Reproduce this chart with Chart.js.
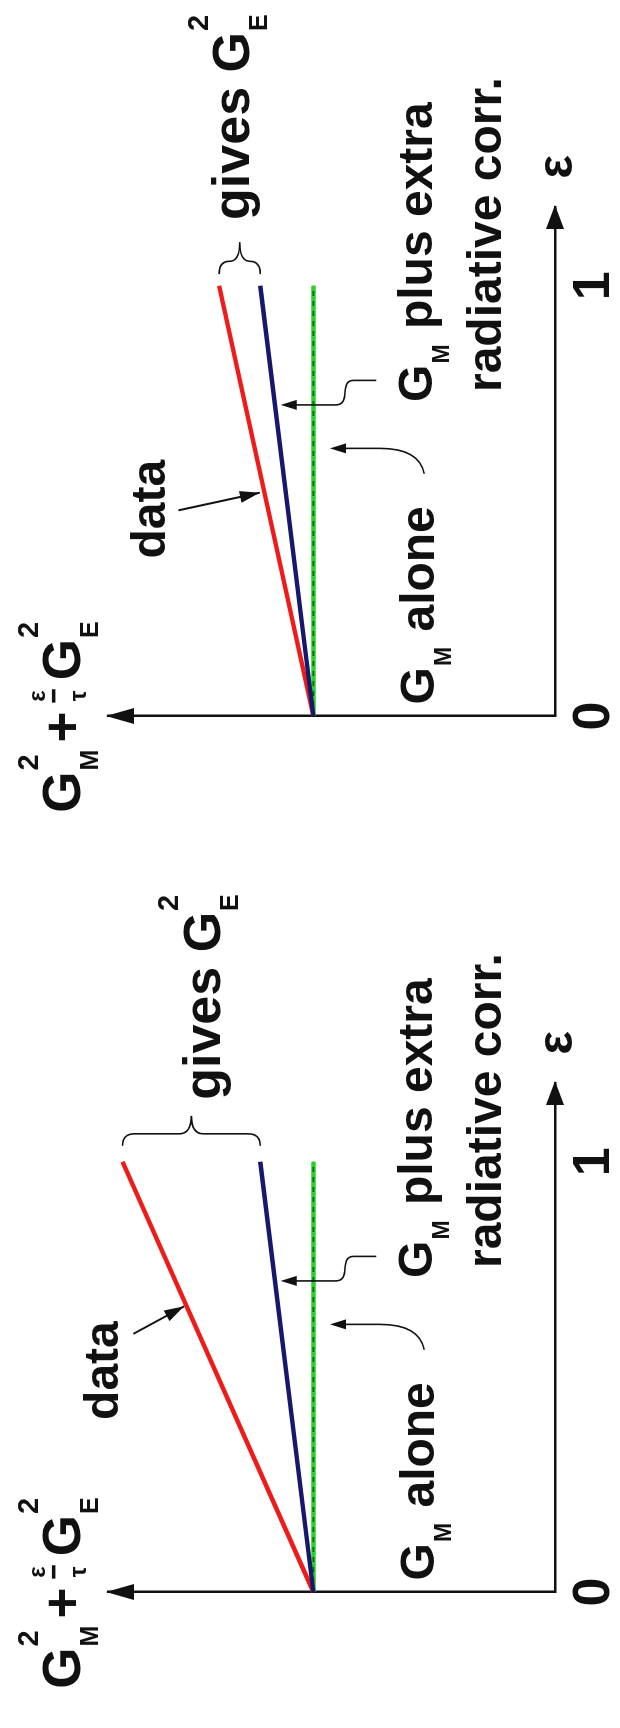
<!DOCTYPE html>
<html>
<head>
<meta charset="utf-8">
<title>G_M^2 + (eps/tau) G_E^2 versus eps</title>
<script src="https://cdn.jsdelivr.net/npm/chart.js@4.4.1/dist/chart.umd.min.js"></script>
<style>
  html, body { margin: 0; padding: 0; background: #fff; overflow: hidden; }
  #wrap { position: relative; width: 620px; height: 1728px; overflow: hidden; }
  /* the figure is drawn landscape and turned a quarter left, like the original page */
  canvas { position: absolute; left: 0; top: 0; transform-origin: 0 0; }
  #top { transform: translate(0px, 864px) rotate(-90deg); }
  #bottom { transform: translate(0px, 1740px) rotate(-90deg); }
</style>
</head>
<body>
<div id="wrap">
  <canvas id="top" width="864" height="620"></canvas>
  <canvas id="bottom" width="864" height="620"></canvas>
</div>
<script>
// values (G_M^2 taken as 1)
const eps = [0, 1];
const gmAlone = [1, 1];
const gmRadCorr = [1, 1.22];
const dataTop = [1, 1.39];
const dataBottom = [1, 1.79];
const epsTicks = [0, 1];
const epsTickLabels = ['0', '1'];
const EPS_MAX = 1.183;
const Y_MAX = 1.85;

const FONT = '"Liberation Sans", Arial, Helvetica, sans-serif';
function bold(size) { return 'bold ' + size + 'px ' + FONT; }

function pts(vals) {
  return eps.map((e, i) => ({ x: e, y: vals[i] }));
}

// per panel: where the notes sit, in (eps, value) units
const layouts = {
  top: {
    red: dataTop,
    gives: [1.153, 1.265],
    brace: { e: 1.027, depth: 32 },
    data: [0.366, 1.614],
    dataArrow: [[0.478, 1.558], [0.519, 1.222]]
  },
  bottom: {
    red: dataBottom,
    gives: [1.144, 1.387],
    brace: { e: 1.037, depth: 30 },
    data: [0.400, 1.810],
    dataArrow: [[0.600, 1.745], [0.664, 1.535]]
  }
};

// text run: plain strings, stacked sub/sup, gaps, or a small fraction
function run(ctx, x, y, pieces, F, dry) {
  ctx.textBaseline = 'alphabetic';
  ctx.textAlign = 'left';
  for (const p of pieces) {
    if (typeof p === 'string') {
      ctx.font = bold(F);
      if (!dry) ctx.fillText(p, x, y);
      x += ctx.measureText(p).width;
    } else if (p.gap) {
      x += p.gap;
    } else if (p.frac) {
      const fs = Math.round(F * 0.46);
      ctx.font = bold(fs);
      const wa = ctx.measureText(p.frac[0]).width;
      const wb = ctx.measureText(p.frac[1]).width;
      const w = Math.max(wa, wb) + 2;
      if (!dry) {
        ctx.fillText(p.frac[0], x + (w - wa) / 2, y - F * 0.66);
        ctx.fillRect(x, y - F * 0.53, w, 3.5);
        ctx.fillText(p.frac[1], x + (w - wb) / 2, y + F * 0.12);
      }
      x += w;
    } else {
      let w = 0;
      if (p.sup) {
        ctx.font = bold(Math.round(F * 0.55));
        if (!dry) ctx.fillText(p.sup, x + 1, y - F * 0.8);
        w = Math.max(w, ctx.measureText(p.sup).width);
      }
      if (p.sub) {
        ctx.font = bold(Math.round(F * 0.48));
        if (!dry) ctx.fillText(p.sub, x + 1, y + F * 0.34);
        w = Math.max(w, ctx.measureText(p.sub).width);
      }
      x += w + 3;
    }
  }
  return x;
}

function head(ctx, from, tip, len, half) {
  const a = Math.atan2(tip[1] - from[1], tip[0] - from[0]);
  ctx.save();
  ctx.translate(tip[0], tip[1]);
  ctx.rotate(a);
  ctx.beginPath();
  ctx.moveTo(0, 0);
  ctx.lineTo(-len, -half);
  ctx.lineTo(-len, half);
  ctx.closePath();
  ctx.fill();
  ctx.restore();
}

function brace(ctx, x0, yTop, yBot, depth) {
  const yTip = (yTop + yBot) / 2;
  const xm = x0 + depth * 0.4;
  const r = Math.min(depth * 0.4, (yTip - yTop) / 2);
  ctx.beginPath();
  ctx.moveTo(x0, yTop);
  ctx.quadraticCurveTo(xm, yTop, xm, yTop + r);
  ctx.lineTo(xm, yTip - r);
  ctx.quadraticCurveTo(xm, yTip, x0 + depth, yTip);
  ctx.quadraticCurveTo(xm, yTip, xm, yTip + r);
  ctx.lineTo(xm, yBot - r);
  ctx.quadraticCurveTo(xm, yBot, x0, yBot);
  ctx.stroke();
}

const decor = {
  id: 'decor',
  afterDraw(chart) {
    const L = layouts[chart.canvas.id];
    const ctx = chart.ctx;
    const xs = chart.scales.x, ys = chart.scales.y;
    const P = (e, v) => [xs.getPixelForValue(e), ys.getPixelForValue(v)];
    const area = chart.chartArea;
    ctx.save();
    ctx.fillStyle = '#111';
    ctx.strokeStyle = '#111';

    // axis arrows
    head(ctx, [area.right - 10, area.bottom], [area.right + 2, area.bottom], 24, 9);
    head(ctx, [area.left, area.top + 10], [area.left, area.top - 2], 28, 8);

    // eps ticks and axis name
    ctx.font = bold(52);
    ctx.textAlign = 'center';
    ctx.textBaseline = 'alphabetic';
    epsTicks.forEach((t, i) => ctx.fillText(epsTickLabels[i], xs.getPixelForValue(t), area.bottom + 54));
    ctx.font = bold(50);
    ctx.fillText('\u03b5', area.right + 40, area.bottom + 17);

    // value axis name, centred over the arrow
    const lab = ['G', { sub: 'M', sup: '2' }, { gap: 5 }, '+', { gap: 9 },
      { frac: ['\u03b5', '\u03c4'] }, { gap: 9 }, 'G', { sub: 'E', sup: '2' }];
    const w = run(ctx, 0, 0, lab, 53, true);
    run(ctx, area.left - w / 2, 80, lab, 53, false);

    // notes
    const red = L.red;
    let p = P(L.gives[0], L.gives[1]);
    run(ctx, p[0], p[1], ['gives G', { sub: 'E', sup: '2' }], 52, false);

    p = P(0.730, 0.508);
    run(ctx, p[0], p[1], ['G', { sub: 'M' }, ' plus extra'], 48, false);
    p = P(0.753, 0.224);
    run(ctx, p[0], p[1], ['radiative corr.'], 48, false);
    p = P(0.027, 0.500);
    run(ctx, p[0], p[1], ['G', { sub: 'M' }, ' alone'], 48, false);
    p = P(L.data[0], L.data[1]);
    run(ctx, p[0], p[1], ['data'], 48, false);

    // brace over the two upper line ends
    ctx.lineWidth = 1.6;
    const bx = xs.getPixelForValue(L.brace.e);
    brace(ctx, bx, ys.getPixelForValue(red[1]), ys.getPixelForValue(gmRadCorr[1]), L.brace.depth);

    // arrow from "data" to the red line
    ctx.lineWidth = 2;
    const a0 = P(L.dataArrow[0][0], L.dataArrow[0][1]);
    const a1 = P(L.dataArrow[1][0], L.dataArrow[1][1]);
    ctx.beginPath();
    ctx.moveTo(a0[0], a0[1]);
    ctx.lineTo(a1[0], a1[1]);
    ctx.stroke();
    head(ctx, a0, a1, 20, 6);

    // curved pointer from "G_M alone" to the green line
    ctx.lineWidth = 1.6;
    let s = P(0.563, 0.541), c = P(0.622, 0.561), e = P(0.622, 0.724), t = P(0.622, 0.931);
    ctx.beginPath();
    ctx.moveTo(s[0], s[1]);
    ctx.quadraticCurveTo(c[0], c[1], e[0], e[1]);
    ctx.lineTo(t[0], t[1] + 10);
    ctx.stroke();
    head(ctx, e, t, 16, 5);

    // wiggly pointer from "G_M plus extra" to the blue line
    s = P(0.780, 0.740);
    const m = P(0.780, 0.834), c1 = P(0.780, 0.895), c2 = P(0.723, 0.842), m2 = P(0.723, 0.907);
    t = P(0.723, 1.135);
    ctx.beginPath();
    ctx.moveTo(s[0], s[1]);
    ctx.lineTo(m[0], m[1]);
    ctx.bezierCurveTo(c1[0], c1[1], c2[0], c2[1], m2[0], m2[1]);
    ctx.lineTo(t[0], t[1] + 10);
    ctx.stroke();
    head(ctx, m2, t, 16, 5);

    ctx.restore();
  }
};

function makeChart(id) {
  const L = layouts[id];
  const line = (vals, color, width, dash) => ({
    data: pts(vals),
    showLine: true,
    pointRadius: 0,
    borderColor: color,
    borderWidth: width,
    borderDash: dash || [],
    borderCapStyle: 'butt',
    clip: false
  });
  return new Chart(document.getElementById(id), {
    type: 'scatter',
    data: {
      datasets: [
        line(gmRadCorr, '#17176e', 4.5),
        line(gmAlone, '#0b5a0b', 1.6, [5, 5]),
        line(gmAlone, '#2bd12b', 4.5),
        line(L.red, '#ee1b1b', 4.5)
      ]
    },
    options: {
      responsive: false,
      animation: false,
      events: [],
      layout: { padding: { left: 140, right: 207, top: 108, bottom: 57 } },
      plugins: { legend: { display: false }, tooltip: { enabled: false } },
      scales: {
        x: {
          type: 'linear', min: 0, max: EPS_MAX,
          grid: { display: false },
          ticks: { display: false },
          border: { display: true, color: '#111', width: 2.5 }
        },
        y: {
          type: 'linear', min: 0, max: Y_MAX,
          grid: { display: false },
          ticks: { display: false },
          border: { display: true, color: '#111', width: 2.5 }
        }
      }
    },
    plugins: [decor]
  });
}

makeChart('top');
makeChart('bottom');
</script>
</body>
</html>
